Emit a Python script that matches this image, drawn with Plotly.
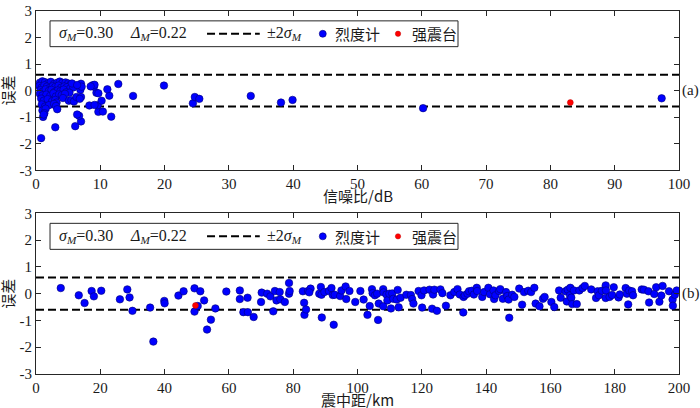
import plotly.graph_objects as go

# ---------------- data ----------------
sigma_M = 0.30
delta_M = 0.22
band = 2 * sigma_M

# Panel (a): signal-to-noise ratio (dB) vs error, intensity meters
snr_intensity = [
    0.6, 1.0, 1.4, 1.9, 2.3, 2.8, 3.3, 3.7, 4.1, 4.6, 5.0, 5.4,
    0.5, 0.9, 1.3, 1.7, 2.1, 2.6, 3.0, 3.5, 3.9, 4.4, 4.8, 5.3, 5.8,
    0.7, 1.1, 1.5, 2.0, 2.4, 2.9, 3.4, 3.8, 4.3, 4.7, 5.2,
    0.6, 1.0, 1.6, 2.2, 2.7, 3.1, 3.6, 4.0, 4.5,
    0.8, 1.2, 1.8, 2.5, 3.0, 3.2, 4.2,
    0.9, 1.4, 2.0, 2.8, 3.1,
    1.0, 1.5, 3.3, 1.3,
    6.1, 3.0, 0.8, 1.1, 1.2, 7.0, 6.7, 6.4, 11.7, 9.7, 10.4, 9.6, 8.3, 9.1, 10.2,
    5.1, 5.5, 5.9, 6.3, 7.0, 6.8, 11.4, 11.1, 9.4, 9.7, 8.8, 9.0, 9.1, 8.5,
    7.0, 6.9, 7.1, 5.6, 6.4,
    12.8, 15.1, 19.9, 24.4, 24.7, 25.4, 33.4, 38.1, 39.9, 60.2, 97.3,
]
err_intensity_a = [
    0.30, 0.35, 0.32, 0.28, 0.33, 0.25, 0.30, 0.34, 0.29, 0.31, 0.27, 0.24,
    0.18, 0.12, 0.20, 0.15, 0.10, 0.17, 0.14, 0.19, 0.11, 0.16, 0.13, 0.08, 0.12,
    0.02, -0.03, 0.05, -0.01, 0.03, -0.05, 0.01, -0.02, 0.04, -0.06, -0.08,
    -0.12, -0.18, -0.15, -0.20, -0.10, -0.22, -0.14, -0.17, -0.12,
    -0.30, -0.38, -0.32, -0.40, -0.35, -0.45, -0.28,
    -0.52, -0.60, -0.55, -0.50, -0.58,
    -0.75, -0.68, -0.70, -0.85,
    -1.34, -1.38, -1.79, -0.99, -0.90, -1.16, -0.95, -0.90, -0.98, -0.80, -0.79, -0.55, -0.56, -0.54, -0.38,
    -0.38, -0.36, -0.41, -0.24, -0.24, -0.31, -0.19, 0.05, -0.08, -0.10, 0.20, 0.15, 0.22, 0.16,
    0.26, 0.03, 0.15, 0.27, 0.21,
    0.25, -0.20, 0.19, -0.48, -0.24, -0.31, -0.20, -0.45, -0.35, -0.66, -0.29,
]
snr_strong = [83.1]
err_strong_a = [-0.45]

# Panel (b): epicentral distance (km) vs error
dist_intensity = [
    7.7, 13.3, 15.1, 17.3, 18.0, 20.3, 26.1, 28.4, 29.1, 30.0, 35.5, 36.5, 39.9, 40.0,
    44.3, 45.9, 49.3, 49.3, 50.3, 51.1, 52.3, 53.2, 54.4, 55.8, 59.2, 63.4, 63.4, 64.5,
    65.8, 65.9, 67.7, 70.0, 70.2, 71.9, 72.9, 73.8, 74.3, 74.8, 75.8, 76.0, 77.4, 78.7,
    78.7, 78.9, 83.0, 83.4, 83.5, 84.0, 84.6, 85.4, 85.0, 88.1, 88.6, 88.8, 88.9, 89.7,
    91.1, 91.9, 92.3, 92.6, 92.9, 94.6, 95.0, 96.3, 96.5, 97.5,
    99.3, 100.9, 101.9, 103.1, 103.8, 104.5, 104.7, 105.4, 106.1, 106.4, 106.6, 108.0,
    108.0, 108.1, 109.0, 109.3, 109.9, 110.4, 110.8, 111.1, 112.2, 112.5, 112.8, 113.4,
    115.2, 116.6, 117.0, 117.4, 119.0, 119.9, 120.1, 120.7, 122.4, 123.2, 123.5, 123.9,
    124.7, 125.8, 126.4, 127.5, 128.9, 130.1, 131.1, 131.8, 132.9, 133.0, 133.4, 134.2,
    134.7, 135.6, 136.2, 137.1, 137.2, 138.8, 139.4, 140.7, 141.2, 142.3, 142.5, 142.9,
    144.0, 144.4, 145.2, 146.2, 146.6, 147.0, 147.2, 148.1, 148.8, 150.3, 151.2, 151.8,
    153.1, 154.0, 155.0, 155.4, 156.6, 157.7, 158.2, 160.3, 161.2, 162.7, 163.2, 164.7,
    165.1, 165.4, 166.1, 166.2, 166.5, 166.8, 167.3, 168.2, 169.0, 170.0, 170.7, 172.7,
    174.2, 174.7, 175.1, 176.0, 177.2, 177.3, 177.2, 178.4, 179.2, 179.7, 181.2, 181.6,
    183.4, 183.8, 184.2, 184.5, 185.4, 185.7, 188.4, 189.1, 190.5, 190.7, 192.3, 192.9,
    193.9, 194.5, 194.9, 196.9, 198.0, 198.1, 198.7, 199.3,
]
err_intensity_b = [
    0.21, -0.06, -0.35, 0.10, -0.10, 0.11, -0.21, 0.16, -0.14, -0.64, -0.52, -1.79, -0.27, -0.36,
    -0.07, 0.09, 0.20, -0.67, -0.46, 0.09, -0.25, -1.34, -0.97, -0.55, 0.08, 0.12, -0.20, -0.69,
    -0.15, -0.69, -0.87, -0.31, 0.04, 0.00, -0.10, -0.66, 0.10, -0.25, 0.06, -0.21, -0.31, 0.40,
    0.00, 0.10, 0.09, -0.34, -0.79, -0.59, 0.10, 0.19, 0.05, 0.00, 0.25, -0.04, -0.89, 0.06,
    0.10, 0.21, -0.05, -1.16, -0.04, -0.09, 0.12, 0.27, -0.20, 0.10,
    -0.31, 0.10, -0.22, -0.79, -0.46, 0.17, 0.02, -0.06, 0.00, -0.98, -0.37, 0.17,
    -0.47, 0.05, -0.03, -0.25, 0.00, -0.55, 0.01, -0.19, -0.22, 0.14, -0.51, -0.15,
    -0.04, -0.05, -0.20, -0.37, 0.10, -0.06, -0.52, 0.12, 0.15, -0.56, -0.03, 0.15,
    -0.64, 0.16, 0.02, -0.45, -0.06, 0.06, 0.17, -0.03, -0.70, -0.12, -0.06, 0.00,
    0.09, 0.11, -0.03, 0.22, 0.10, -0.12, 0.06, 0.22, -0.02, 0.12, -0.20, -0.06,
    0.10, 0.17, -0.19, 0.06, -0.09, -0.22, -0.90, -0.04, -0.12, 0.19, -0.41, 0.06,
    0.11, 0.06, 0.22, -0.37, -0.47, -0.19, -0.12, -0.31, -0.50, 0.12, -0.15, 0.09,
    -0.29, 0.15, -0.06, 0.22, -0.15, -0.39, 0.12, -0.39, 0.12, 0.21, 0.29, 0.16,
    -0.16, 0.09, -0.06, 0.11, 0.31, 0.12, -0.16, -0.12, -0.05, 0.24, -0.14, -0.03,
    0.21, 0.00, -0.40, 0.12, 0.09, -0.06, 0.16, 0.15, 0.09, -0.33, -0.01, 0.24,
    -0.30, -0.07, 0.29, 0.09, -0.22, -0.45, -0.04, 0.12,
]
dist_strong = [49.6]
err_strong_b = [-0.44]

x_ticks_a = [0, 10, 20, 30, 40, 50, 60, 70, 80, 90, 100]
x_ticks_b = [0, 20, 40, 60, 80, 100, 120, 140, 160, 180, 200]
y_ticks = [-3, -2, -1, 0, 1, 2, 3]
y_tick_text = ["-3", "-2", "-1", "0", "1", "2", "3"]

x_titles = ["信噪比/dB", "震中距/km"]
y_title = "误差"
panel_labels = ["(a)", "(b)"]
legend_names = ["烈度计", "强震台"]

# ---------------- styling ----------------
BLUE = "#0000FF"
BLUE_EDGE = "#00007A"
RED = "#FF0000"
AX = "#262626"
TXT = "#1a1a1a"
SERIF = "Liberation Serif, Times New Roman, serif"
CJK = "Noto Sans CJK SC, sans-serif"

fig = go.Figure()

panels = [
    ("x", "y", snr_intensity, err_intensity_a, snr_strong, err_strong_a, [0, 100]),
    ("x2", "y2", dist_intensity, err_intensity_b, dist_strong, err_strong_b, [0, 200]),
]
for xa, ya, xs, ys, xr, yr, rng in panels:
    for sgn in (1, -1):
        fig.add_trace(go.Scatter(x=rng, y=[sgn * band, sgn * band], mode="lines",
                                 line=dict(color="black", width=2, dash="8px,4px"),
                                 xaxis=xa, yaxis=ya, showlegend=False, hoverinfo="skip"))
    fig.add_trace(go.Scatter(x=xs, y=ys, mode="markers", name=legend_names[0],
                             marker=dict(color=BLUE, size=7.5, line=dict(color=BLUE_EDGE, width=0.6)),
                             xaxis=xa, yaxis=ya, showlegend=False))
    fig.add_trace(go.Scatter(x=xr, y=yr, mode="markers", name=legend_names[1],
                             marker=dict(color=RED, size=6, line=dict(color="#B00000", width=0.4)),
                             xaxis=xa, yaxis=ya, showlegend=False))

axis_common = dict(showline=True, linecolor=AX, linewidth=1, mirror="ticks", ticks="inside",
                   ticklen=5, tickcolor=AX, showgrid=False, zeroline=False, automargin=False,
                   ticklabeloverflow="allow",
                   tickfont=dict(family=SERIF, size=15, color=TXT))

# top panel spans pixels ~11..168, bottom 213..374 (page height 408)
top_dom = [0.5613, 1.0]
bot_dom = [0.0, 0.4425]
title_font = dict(family=CJK, size=15, color=TXT)

fig.update_layout(
    width=700, height=408,
    margin=dict(l=36, r=21, t=11, b=34),
    paper_bgcolor="white", plot_bgcolor="white",
    showlegend=False,
    xaxis=dict(domain=[0, 1], anchor="y", range=[0, 100], tickvals=x_ticks_a, **axis_common),
    yaxis=dict(domain=top_dom, anchor="x", range=[-3, 3], tickvals=y_ticks, ticktext=y_tick_text,
               **axis_common),
    xaxis2=dict(domain=[0, 1], anchor="y2", range=[0, 200], tickvals=x_ticks_b, **axis_common),
    yaxis2=dict(domain=bot_dom, anchor="x2", range=[-3, 3], tickvals=y_ticks, ticktext=y_tick_text,
                **axis_common),
)

# ---------------- manual legend boxes + titles ----------------
shapes = []
annotations = []
ltxt = dict(family=SERIF, size=16, color=TXT)
ctxt = dict(family=CJK, size=15, color=TXT)
sig_text = "<i>σ</i><sub><i>M</i></sub>=%.2f" % sigma_M
del_text = "<i>Δ</i><sub><i>M</i></sub>=%.2f" % delta_M
band_text = "±2<i>σ</i><sub><i>M</i></sub>"

for i, (xa, ya) in enumerate([("x", "y"), ("x2", "y2")]):
    xd, yd = xa + " domain", ya + " domain"
    yb0, yb1, yc = 0.776, 0.938, 0.857
    shapes.append(dict(type="rect", xref=xd, yref=yd, x0=0.0218, x1=0.6563, y0=yb0, y1=yb1,
                       line=dict(color=AX, width=1), fillcolor="white", layer="above"))
    shapes.append(dict(type="line", xref=xd, yref=yd, x0=0.266, x1=0.348, y0=yc, y1=yc,
                       line=dict(color="black", width=2, dash="8px,4px"), layer="above"))
    shapes.append(dict(type="circle", xref=xd, yref=yd, xsizemode="pixel", ysizemode="pixel",
                       xanchor=0.446, yanchor=yc, x0=-3.5, x1=3.5, y0=-3.5, y1=3.5,
                       fillcolor=BLUE, line=dict(color=BLUE_EDGE, width=0.6), layer="above"))
    shapes.append(dict(type="circle", xref=xd, yref=yd, xsizemode="pixel", ysizemode="pixel",
                       xanchor=0.563, yanchor=yc, x0=-2.7, x1=2.7, y0=-2.7, y1=2.7,
                       fillcolor=RED, line=dict(color="#B00000", width=0.4), layer="above"))
    for xpos, txt, fnt in [(0.0327, sig_text, ltxt), (0.143, del_text, ltxt),
                           (0.356, band_text, ltxt), (0.462, legend_names[0], ctxt),
                           (0.582, legend_names[1], ctxt)]:
        annotations.append(dict(xref=xd, yref=yd, x=xpos, y=yc, text=txt, showarrow=False,
                                xanchor="left", yanchor="middle", font=fnt))
    annotations.append(dict(xref=xd, yref=ya, x=1.0, y=0, text=panel_labels[i], showarrow=False,
                            xanchor="left", yanchor="middle", xshift=1,
                            font=dict(family=SERIF, size=15, color=TXT)))
    # axis titles
    annotations.append(dict(xref=xd, yref=yd, x=0.5, y=0, text=x_titles[i], showarrow=False,
                            xanchor="center", yanchor="middle", yshift=-25, font=title_font))
    annotations.append(dict(xref=xd, yref=yd, x=0, y=0.5, text=y_title, showarrow=False,
                            textangle=-90, xanchor="center", yanchor="middle", xshift=-28,
                            font=title_font))

fig.update_layout(shapes=shapes, annotations=annotations)

fig.write_html(
    "out.html",
    config={"displayModeBar": False},
    post_script="document.body.style.margin='0';document.body.style.overflow='hidden';",
)
